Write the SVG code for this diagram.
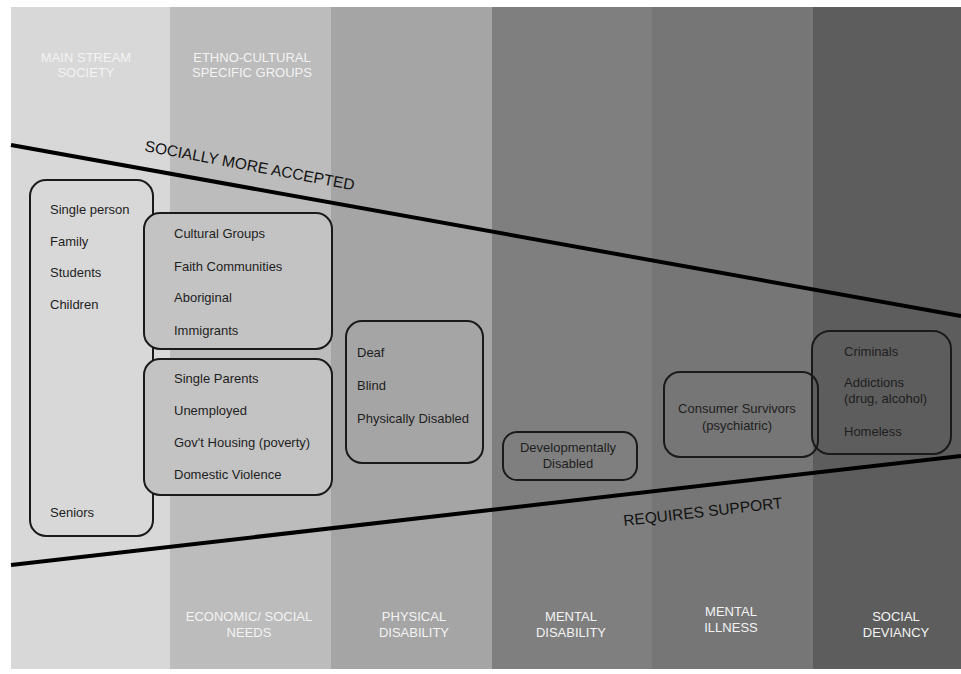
<svg xmlns="http://www.w3.org/2000/svg" width="961" height="674" viewBox="0 0 961 674">
<style>
.hd{font-family:"Liberation Sans",Arial,sans-serif;font-size:13px;fill:#f3f3f3;text-anchor:middle}
.t{font-family:"Liberation Sans",Arial,sans-serif;font-size:13px;fill:#1e1e1e}
.c{text-anchor:middle}
.box{fill:none;stroke:#1a1a1a;stroke-width:2}
.fb{fill:#c3c3c3;stroke:#1a1a1a;stroke-width:2}
.big{font-family:"Liberation Sans",Arial,sans-serif;font-size:15.5px;fill:#111}
.ln{stroke:#000;stroke-width:4;fill:none}
</style>
<rect x="0" y="0" width="961" height="674" fill="#ffffff"/>
<g id="columns">
<rect x="11" y="7" width="159" height="662" fill="#d8d8d8"/>
<rect x="170" y="7" width="161" height="662" fill="#bcbcbc"/>
<rect x="331" y="7" width="161" height="662" fill="#a5a5a5"/>
<rect x="492" y="7" width="160" height="662" fill="#7f7f7f"/>
<rect x="652" y="7" width="161" height="662" fill="#767676"/>
<rect x="813" y="7" width="148" height="662" fill="#5d5d5d"/>
</g>
<g id="headers">
<text class="hd" x="86" y="62">MAIN STREAM</text>
<text class="hd" x="86" y="77">SOCIETY</text>
<text class="hd" x="252" y="62">ETHNO-CULTURAL</text>
<text class="hd" x="252" y="77">SPECIFIC GROUPS</text>
<text class="hd" x="249" y="621">ECONOMIC/ SOCIAL</text>
<text class="hd" x="249" y="637">NEEDS</text>
<text class="hd" x="414" y="621">PHYSICAL</text>
<text class="hd" x="414" y="637">DISABILITY</text>
<text class="hd" x="571" y="621">MENTAL</text>
<text class="hd" x="571" y="637">DISABILITY</text>
<text class="hd" x="731" y="616">MENTAL</text>
<text class="hd" x="731" y="632">ILLNESS</text>
<text class="hd" x="896" y="621">SOCIAL</text>
<text class="hd" x="896" y="637">DEVIANCY</text>
</g>
<g id="connectors">
<line class="ln" x1="11" y1="145" x2="961" y2="316"/>
<line class="ln" x1="11" y1="565" x2="961" y2="456"/>
<text class="big" transform="translate(144,151) rotate(10.6)">SOCIALLY MORE ACCEPTED</text>
<text class="big" transform="translate(624,526) rotate(-6.5)">REQUIRES SUPPORT</text>
</g>
<g id="mainstream">
<rect class="box" x="30" y="180" width="123" height="356" rx="16"/>
<text class="t" x="50" y="214">Single person</text>
<text class="t" x="50" y="246">Family</text>
<text class="t" x="50" y="277">Students</text>
<text class="t" x="50" y="309">Children</text>
<text class="t" x="50" y="517">Seniors</text>
</g>
<g id="ethno">
<rect class="fb" x="144" y="213" width="188" height="136" rx="16"/>
<text class="t" x="174" y="238">Cultural Groups</text>
<text class="t" x="174" y="271">Faith Communities</text>
<text class="t" x="174" y="302">Aboriginal</text>
<text class="t" x="174" y="335">Immigrants</text>
</g>
<g id="economic">
<rect class="fb" x="144" y="359" width="188" height="136" rx="16"/>
<text class="t" x="174" y="383">Single Parents</text>
<text class="t" x="174" y="415">Unemployed</text>
<text class="t" x="174" y="447">Gov't Housing (poverty)</text>
<text class="t" x="174" y="479">Domestic Violence</text>
</g>
<g id="physical">
<rect class="box" x="346" y="321" width="137" height="142" rx="16"/>
<text class="t" x="357" y="357">Deaf</text>
<text class="t" x="357" y="390">Blind</text>
<text class="t" x="357" y="423">Physically Disabled</text>
</g>
<g id="mental-disability">
<rect class="box" x="503" y="432" width="134" height="48" rx="14"/>
<text class="t c" x="568" y="452">Developmentally</text>
<text class="t c" x="568" y="468">Disabled</text>
</g>
<g id="mental-illness">
<rect class="box" x="664" y="372" width="154" height="85" rx="16"/>
<text class="t c" x="737" y="413">Consumer Survivors</text>
<text class="t c" x="737" y="430">(psychiatric)</text>
</g>
<g id="deviancy">
<rect class="box" x="812" y="331" width="139" height="123" rx="18"/>
<text class="t" x="844" y="356">Criminals</text>
<text class="t" x="844" y="387">Addictions</text>
<text class="t" x="844" y="403">(drug, alcohol)</text>
<text class="t" x="844" y="436">Homeless</text>
</g>
</svg>
